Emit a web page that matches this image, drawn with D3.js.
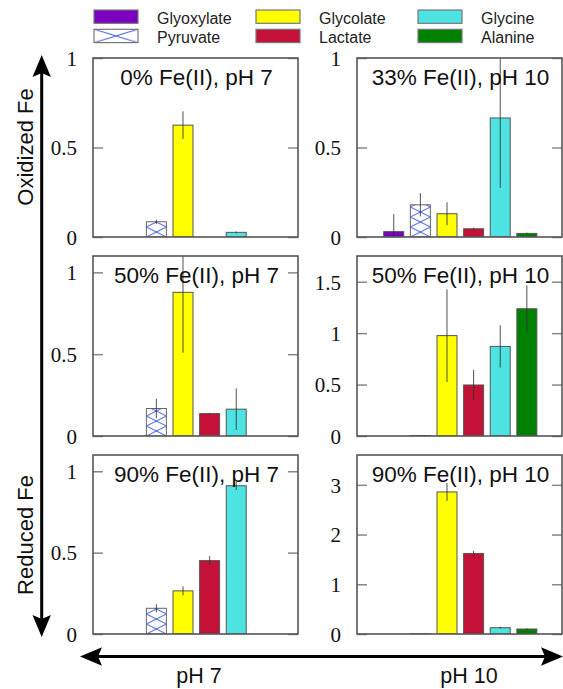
<!DOCTYPE html>
<html><head><meta charset="utf-8">
<script src="https://cdn.jsdelivr.net/npm/d3@7"></script>
<style>body{margin:0;background:#fff}svg{display:block}</style>
</head><body>
<svg id="chart" width="563" height="689"></svg>
<script>
const categories = ["Glyoxylate","Pyruvate","Glycolate","Lactate","Glycine","Alanine"];
const colors = ["#7b00c0","pattern","#ffff00","#c41137","#4de3e3","#008000"];
const panelTitles = ["0% Fe(II), pH 7","33% Fe(II), pH 10","50% Fe(II), pH 7","50% Fe(II), pH 10","90% Fe(II), pH 7","90% Fe(II), pH 10"];
const yMaxes = [1, 1, 1.1, 1.75, 1.1, 3.6];
const yTicks = [[0,0.5,1],[0,0.5,1],[0,0.5,1],[0,0.5,1,1.5],[0,0.5,1],[0,1,2,3]];
const values0 = [0, 0.085, 0.625, 0, 0.026, 0];
const errors0 = [0, 0.012, 0.077, 0, 0.005, 0];
const values1 = [0.03, 0.18, 0.13, 0.046, 0.665, 0.02];
const errors1 = [0.098, 0.065, 0.064, 0.006, 0.39, 0.004];
const values2 = [0, 0.168, 0.878, 0.137, 0.164, 0];
const errors2 = [0, 0.06, 0.37, 0.004, 0.127, 0];
const values3 = [0, 0.005, 0.976, 0.496, 0.871, 1.237];
const errors3 = [0, 0.002, 0.45, 0.147, 0.205, 0.228];
const values4 = [0, 0.158, 0.265, 0.451, 0.911, 0];
const errors4 = [0, 0.025, 0.028, 0.027, 0.025, 0];
const values5 = [0, 0.005, 2.857, 1.62, 0.127, 0.1];
const errors5 = [0, 0.002, 0.18, 0.053, 0.02, 0.015];
const sideLabels = ["Oxidized Fe","Reduced Fe"];
const bottomLabels = ["pH 7","pH 10"];

const allValues = [values0,values1,values2,values3,values4,values5];
const allErrors = [errors0,errors1,errors2,errors3,errors4,errors5];

const svg = d3.select("#chart");
const defs = svg.append("defs");
const colX = [[93,298],[357,562]];
const rowY = [[58,237],[256,436],[455,634]];
const barW = 20;
const PAT = "#3a5ad8";

function makePattern(id, x, y, w, h){
  const p = defs.append("pattern").attr("id",id).attr("patternUnits","userSpaceOnUse")
    .attr("x",x).attr("y",y).attr("width",w).attr("height",h);
  p.append("rect").attr("width",w).attr("height",h).attr("fill","#fff");
  p.append("path").attr("d",`M0,0L${w},${h}M0,${h}L${w},0`).attr("stroke",PAT).attr("stroke-width",1).attr("fill","none");
}

allValues.forEach((vals, pi) => {
  const c = pi % 2, r = Math.floor(pi/2);
  const [x0,x1] = colX[c], [y0,y1] = rowY[r];
  const x = d3.scaleLinear().domain([-1.38, 6.32]).range([x0,x1]);
  const y = d3.scaleLinear().domain([0, yMaxes[pi]]).range([y1,y0]);
  const g = svg.append("g");
  const cid = "clip"+pi;
  defs.append("clipPath").attr("id",cid).append("rect").attr("x",x0).attr("y",y0).attr("width",x1-x0).attr("height",y1-y0);
  makePattern("pat"+pi, x(1)-barW/2, y1, barW, 10);

  const rows = vals.map((v,i)=>({i, v, e: allErrors[pi][i]}));

  // ticks (inward on both sides)
  const left = d3.axisLeft(y).tickValues(yTicks[pi]).tickSize(-10).tickPadding(16).tickFormat(d3.format("~g"));
  const ga = g.append("g").attr("transform",`translate(${x0},0)`).call(left);
  ga.select(".domain").remove();
  ga.selectAll(".tick line").attr("stroke","#888").attr("stroke-width",1.5);
  ga.selectAll(".tick text").attr("font-family","'Liberation Serif','Times New Roman',serif").attr("font-size",21).attr("fill","#111").attr("dy","0.35em");
  const right = d3.axisRight(y).tickValues(yTicks[pi]).tickSize(-10).tickFormat("");
  const gr = g.append("g").attr("transform",`translate(${x1},0)`).call(right);
  gr.select(".domain").remove();
  gr.selectAll(".tick line").attr("stroke","#888").attr("stroke-width",1.5);

  // bars
  const bars = g.append("g").attr("clip-path",`url(#${cid})`);
  bars.selectAll("rect").data(rows).join("rect")
    .attr("x",d=>x(d.i)-barW/2).attr("width",barW)
    .attr("y",d=>y(d.v)).attr("height",d=>y(0)-y(d.v))
    .attr("fill",d=> colors[d.i]==="pattern" ? `url(#pat${pi})` : colors[d.i])
    .attr("stroke",d=> colors[d.i]==="pattern" ? "#666" : "#555").attr("stroke-width",1);

  // error bars
  bars.selectAll("line.err").data(rows.filter(d=>d.e>0)).join("line").attr("class","err")
    .attr("x1",d=>x(d.i)).attr("x2",d=>x(d.i))
    .attr("y1",d=>y(d.v-d.e)).attr("y2",d=>y(d.v+d.e))
    .attr("stroke","#333").attr("stroke-width",1).attr("stroke-opacity",0.85);

  // frame
  g.append("rect").attr("x",x0).attr("y",y0).attr("width",x1-x0).attr("height",y1-y0)
    .attr("fill","none").attr("stroke","#555").attr("stroke-width",1.6);

  // title
  g.append("text").attr("x",(x0+x1)/2+1).attr("y",y0+26.5).attr("text-anchor","middle")
    .attr("font-family","'Liberation Sans',Arial,sans-serif").attr("font-size",22.5).attr("fill","#111")
    .text(panelTitles[pi]);
});

// legend
const legendX = [94, 256, 418];
const legendRowsY = [10, 29.3];
categories.forEach((name, i) => {
  const col = Math.floor(i/2), row = i % 2;
  const sx = legendX[col], sy = legendRowsY[row];
  let fill = colors[i];
  if (fill === "pattern") { makePattern("patLeg", sx, sy, 44, 13.3); fill = "url(#patLeg)"; }
  svg.append("rect").attr("x",sx).attr("y",sy).attr("width",44).attr("height",13.3)
    .attr("fill",fill).attr("stroke","#777").attr("stroke-width",1.2);
  svg.append("text").attr("x",sx+63).attr("y",sy+13.5)
    .attr("font-family","'Liberation Sans',Arial,sans-serif").attr("font-size",16).attr("fill","#222")
    .text(name);
});

// arrows
const arrowHead = (tx, ty, dx, dy) => {
  const L = 22, Wd = 9.2, N = 18;
  const px = -dy, py = dx;
  const bx = tx - dx*L, by = ty - dy*L;
  const nx = tx - dx*N, ny = ty - dy*N;
  return `M${tx},${ty}L${bx+px*Wd},${by+py*Wd}L${nx},${ny}L${bx-px*Wd},${by-py*Wd}Z`;
};
svg.append("line").attr("x1",41.7).attr("x2",41.7).attr("y1",70).attr("y2",622).attr("stroke","#000").attr("stroke-width",3);
svg.append("path").attr("d",arrowHead(41.7,55,0,-1)).attr("fill","#000");
svg.append("path").attr("d",arrowHead(41.7,637,0,1)).attr("fill","#000");
svg.append("line").attr("x1",95).attr("x2",548).attr("y1",656.5).attr("y2",656.5).attr("stroke","#000").attr("stroke-width",3);
svg.append("path").attr("d",arrowHead(80,656.5,-1,0)).attr("fill","#000");
svg.append("path").attr("d",arrowHead(563,656.5,1,0)).attr("fill","#000");

// side labels
[[33,147],[33,535]].forEach((p,i)=>{
  svg.append("text").attr("transform",`translate(${p[0]},${p[1]}) rotate(-90)`).attr("text-anchor","middle")
    .attr("font-family","'Liberation Sans',Arial,sans-serif").attr("font-size",22).attr("fill","#111")
    .text(sideLabels[i]);
});
[[199,683],[469,683]].forEach((p,i)=>{
  svg.append("text").attr("x",p[0]).attr("y",p[1]).attr("text-anchor","middle")
    .attr("font-family","'Liberation Sans',Arial,sans-serif").attr("font-size",21.5).attr("fill","#111")
    .text(bottomLabels[i]);
});
</script>
</body></html>
